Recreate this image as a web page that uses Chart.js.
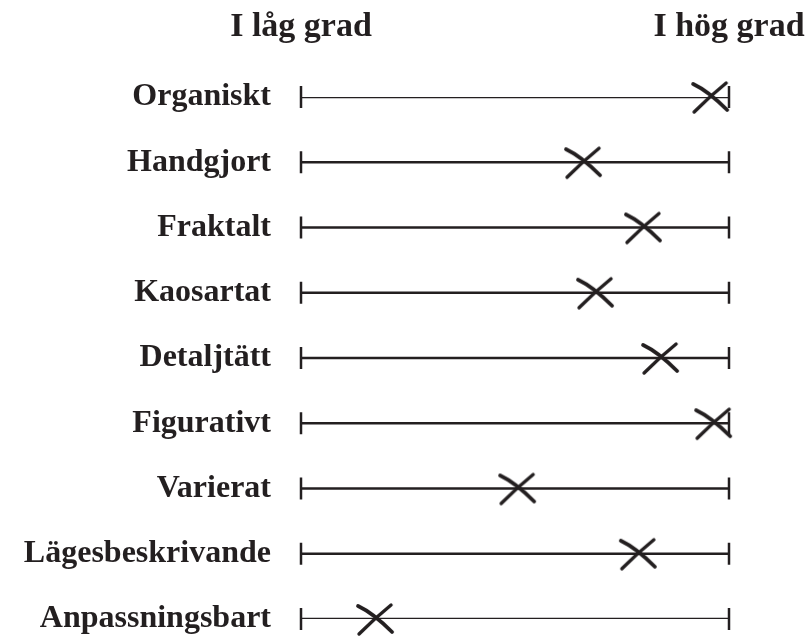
<!DOCTYPE html>
<html>
<head>
<meta charset="utf-8">
<script src="https://cdn.jsdelivr.net/npm/chart.js@4"></script>
<style>
  html, body { margin: 0; padding: 0; background: #fff; }
  #wrap { width: 811px; height: 638px; }
</style>
</head>
<body>
<div id="wrap"><canvas id="chart"></canvas></div>
<script>
// egenskaper (rader)
const categories = ['Organiskt', 'Handgjort', 'Fraktalt', 'Kaosartat', 'Detaljtätt',
  'Figurativt', 'Varierat', 'Lägesbeskrivande', 'Anpassningsbart'];
// var krysset sitter, 0 = i låg grad, 100 = i hög grad
const ratings = [95.6, 65.9, 79.9, 68.7, 83.9, 96.3, 50.5, 78.7, 17.3];
// skalans ändar och rubriker
const scaleMin = 0;
const scaleMax = 100;
const endLabels = ['I låg grad', 'I hög grad'];

const ink = '#231f20';

// handritat kryss som punktstil
function makeCross() {
  const c = document.createElement('canvas');
  c.width = 44;
  c.height = 38;
  const g = c.getContext('2d');
  g.strokeStyle = ink;
  g.lineCap = 'round';
  g.lineWidth = 3.8;
  g.beginPath();
  g.moveTo(5, 6);
  g.quadraticCurveTo(20, 13, 39, 32);
  g.stroke();
  g.lineWidth = 3.4;
  g.beginPath();
  g.moveTo(6, 34);
  g.quadraticCurveTo(22, 18, 38, 5);
  g.stroke();
  return c;
}

const barData = categories.map(() => [scaleMin, scaleMax]);
const capData = [];
categories.forEach(cat => {
  capData.push({ x: scaleMin, y: cat });
  capData.push({ x: scaleMax, y: cat });
});
const markData = categories.map((cat, i) => ({ x: ratings[i], y: cat }));

new Chart(document.getElementById('chart'), {
  type: 'bar',
  data: {
    labels: categories,
    datasets: [
      {
        data: barData,
        backgroundColor: ink,
        barThickness: 2,
        borderSkipped: false,
        order: 3
      },
      {
        type: 'scatter',
        data: capData,
        pointStyle: 'line',
        rotation: 90,
        radius: 11,
        borderWidth: 2.5,
        borderColor: ink,
        clip: false,
        order: 2
      },
      {
        type: 'scatter',
        data: markData,
        pointStyle: makeCross(),
        radius: 18,
        clip: false,
        order: 1
      }
    ]
  },
  options: {
    indexAxis: 'y',
    responsive: true,
    maintainAspectRatio: false,
    animation: false,
    events: [],
    layout: { padding: { left: 0, right: 82, top: 0, bottom: 18 } },
    plugins: { legend: { display: false }, tooltip: { enabled: false } },
    scales: {
      x: {
        type: 'linear',
        position: 'top',
        min: scaleMin,
        max: scaleMax,
        grid: { display: false, drawTicks: false },
        border: { display: false },
        ticks: {
          stepSize: scaleMax - scaleMin,
          padding: 49,
          maxRotation: 0,
          color: ink,
          font: { family: 'Liberation Serif', weight: 'bold', size: 34 },
          callback: (v) => v === scaleMin ? endLabels[0] : (v === scaleMax ? endLabels[1] : '')
        },
        afterFit: (s) => {
          s.height = 97;
          s.paddingLeft = 0;
          s.paddingRight = 0;
        }
      },
      y: {
        type: 'category',
        offset: false,
        grid: { display: false, drawTicks: false },
        border: { display: false },
        ticks: {
          padding: 30,
          color: ink,
          font: { family: 'Liberation Serif', weight: 'bold', size: 32 }
        },
        afterFit: (s) => {
          s.width = 301;
          s.paddingTop = 0;
          s.paddingBottom = 0;
        }
      }
    }
  }
});
</script>
</body>
</html>
